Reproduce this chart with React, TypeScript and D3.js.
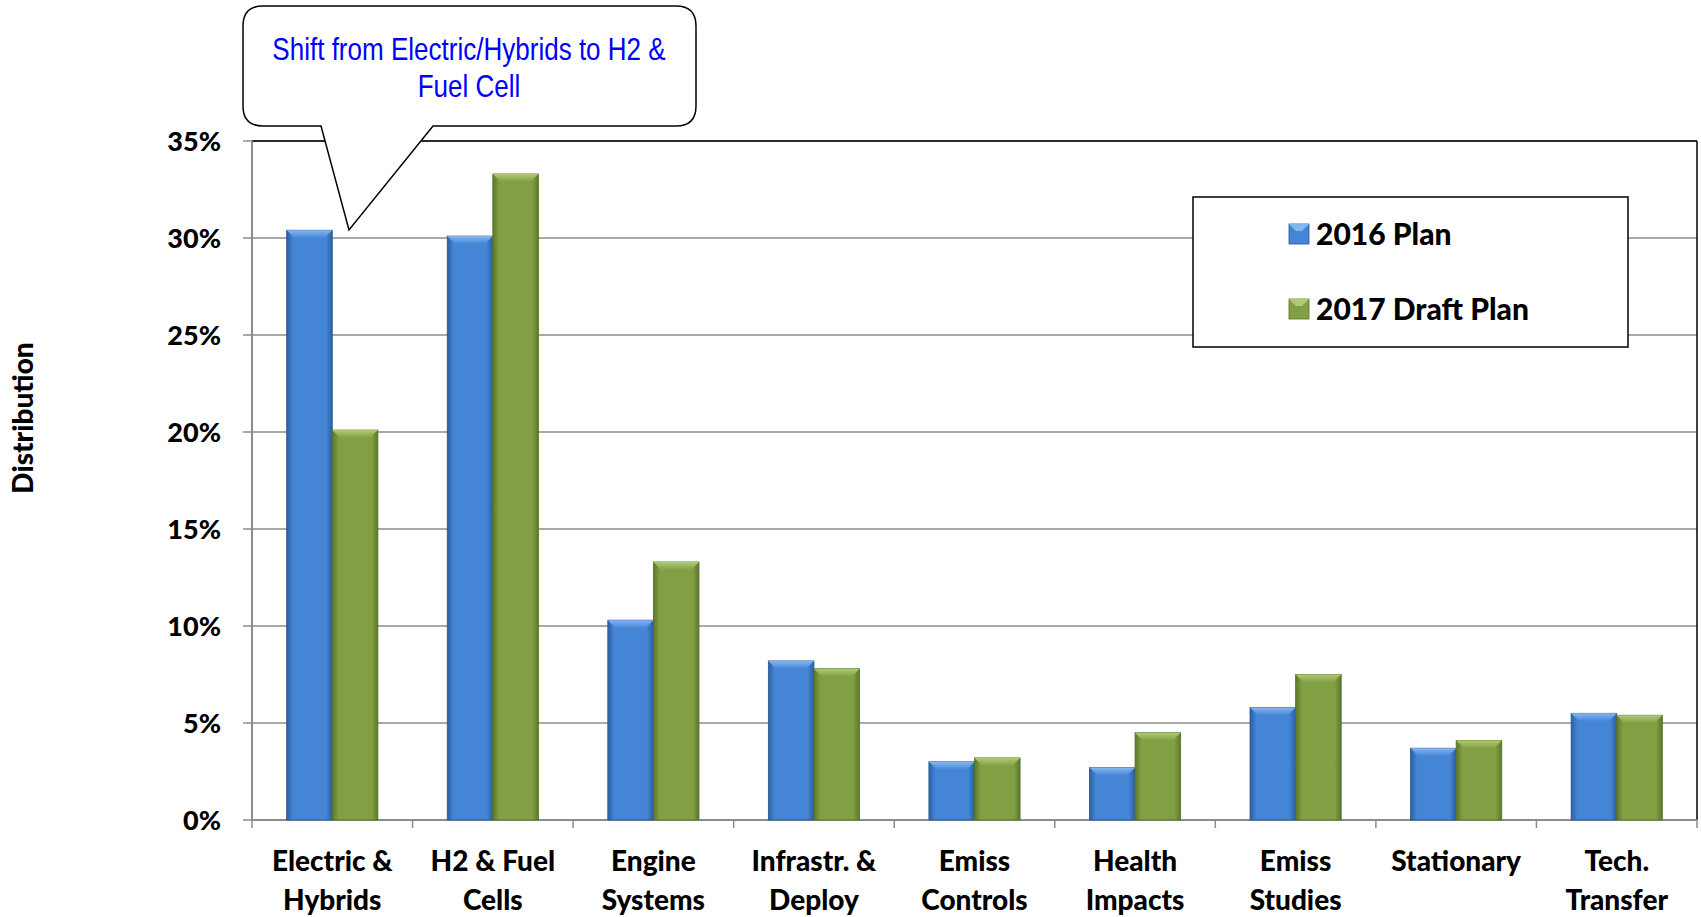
import React from "react";
import * as d3 from "d3";

const categories: string[][] = [
  ["Electric &", "Hybrids"],
  ["H2 & Fuel", "Cells"],
  ["Engine", "Systems"],
  ["Infrastr. &", "Deploy"],
  ["Emiss", "Controls"],
  ["Health", "Impacts"],
  ["Emiss", "Studies"],
  ["Stationary"],
  ["Tech.", "Transfer"],
];
const plan2016: number[] = [30.4, 30.1, 10.3, 8.2, 3.0, 2.7, 5.8, 3.7, 5.5];
const plan2017: number[] = [20.1, 33.3, 13.3, 7.8, 3.2, 4.5, 7.5, 4.1, 5.4];
const yTicks: number[] = [0, 5, 10, 15, 20, 25, 30, 35];
const seriesNames: string[] = ["2016 Plan", "2017 Draft Plan"];
const calloutLines: string[] = ["Shift from Electric/Hybrids to H2 &", "Fuel Cell"];

const W = 1701;
const H = 917;
const L = 252, R = 1697, T = 141, B = 820;
const FONT = "Lato, 'Open Sans', sans-serif";
const FW = 900;

const palettes = [
  { main: "#4485d6", light: "#86b6ef", dark: "#2c5fa3", edge: "#2a5590" },
  { main: "#82a043", light: "#afca74", dark: "#5d772a", edge: "#55702a" },
];

function Bar({ x, y, w, h, s }: { x: number; y: number; w: number; h: number; s: number }) {
  const p = palettes[s];
  const bev = Math.min(8, h / 2);
  return (
    <g>
      <rect x={x} y={y} width={w} height={h} fill={`url(#grad${s})`} stroke={p.edge} strokeWidth={0.8} />
      <polygon
        points={`${x},${y} ${x + w},${y} ${x + w - bev},${y + bev} ${x + bev},${y + bev}`}
        fill={`url(#top${s})`}
      />
    </g>
  );
}

export default function App() {
  const y = d3.scaleLinear().domain([0, 35]).range([B, T]);
  const x = d3.scaleBand<number>().domain(d3.range(categories.length)).range([L, R]).padding(0);
  const step = x.step();
  const bw = step * 0.284;
  const off = step * 0.216;
  const series = [plan2016, plan2017];

  return (
    <svg width={W} height={H} style={{ display: "block", position: "absolute", left: 0, top: 0 }}>
      <defs>
        {palettes.map((p, i) => (
          <React.Fragment key={i}>
            <linearGradient id={`grad${i}`} x1="0" x2="1" y1="0" y2="0">
              <stop offset="0%" stopColor={p.dark} />
              <stop offset="14%" stopColor={p.main} />
              <stop offset="86%" stopColor={p.main} />
              <stop offset="100%" stopColor={p.dark} />
            </linearGradient>
            <linearGradient id={`top${i}`} x1="0" x2="0" y1="0" y2="1">
              <stop offset="0%" stopColor={p.light} />
              <stop offset="100%" stopColor={p.main} />
            </linearGradient>
          </React.Fragment>
        ))}
      </defs>
      <rect x={0} y={0} width={W} height={H} fill="#fff" />

      {yTicks.map((t) => (
        <line key={t} x1={L - 9} x2={R} y1={y(t)} y2={y(t)} stroke="#8c8c8c" strokeWidth={1.5} />
      ))}
      <line x1={L} x2={R} y1={T} y2={T} stroke="#000" strokeWidth={1.5} />
      <line x1={R} x2={R} y1={T} y2={B} stroke="#000" strokeWidth={1.5} />
      <line x1={L} x2={L} y1={T} y2={B} stroke="#8c8c8c" strokeWidth={2} />
      <line x1={L} x2={R} y1={B} y2={B} stroke="#8c8c8c" strokeWidth={2} />
      {d3.range(categories.length + 1).map((i) => {
        const xx = L + i * step;
        return <line key={i} x1={xx} x2={xx} y1={B} y2={B + 8} stroke="#8c8c8c" strokeWidth={1.5} />;
      })}

      {yTicks.map((t) => (
        <text
          key={t}
          x={221}
          y={y(t)}
          dy="0.36em"
          textAnchor="end"
          fontFamily={FONT}
          fontWeight={FW}
          fontSize={27}
          fill="#000"
        >
          {t}%
        </text>
      ))}

      <text
        transform={`translate(${33},${418}) rotate(-90)`}
        textAnchor="middle"
        fontFamily={FONT}
        fontWeight={FW}
        fontSize={28}
        fill="#000"
      >
        Distribution
      </text>

      {categories.map((_, i) =>
        series.map((vals, s) => {
          const bx = (x(i) as number) + off + s * bw;
          const by = y(vals[i]);
          return <Bar key={`${i}-${s}`} x={bx} y={by} w={bw} h={B - by} s={s} />;
        })
      )}

      {categories.map((lines, i) => {
        const cx = (x(i) as number) + step / 2;
        return (
          <text key={i} textAnchor="middle" fontFamily={FONT} fontWeight={FW} fontSize={28} fill="#000">
            {lines.map((ln, j) => (
              <tspan key={j} x={cx} y={871 + j * 39}>
                {ln}
              </tspan>
            ))}
          </text>
        );
      })}

      <rect x={1193} y={197} width={435} height={150} fill="#fff" stroke="#000" strokeWidth={1.5} />
      {seriesNames.map((n, s) => {
        const cy = 234 + s * 75;
        const p = palettes[s];
        return (
          <g key={n}>
            <rect x={1289} y={cy - 10} width={20} height={20} fill={p.main} stroke={p.edge} strokeWidth={0.8} />
            <polygon
              points={`${1289},${cy - 10} ${1309},${cy - 10} ${1302},${cy - 3} ${1296},${cy - 3}`}
              fill={p.light}
            />
            <text x={1316} y={cy} dy="0.36em" fontFamily={FONT} fontWeight={FW} fontSize={30} fill="#000">
              {n}
            </text>
          </g>
        );
      })}

      <path
        d={`M 263 6 H 676 Q 696 6 696 26 V 106 Q 696 126 676 126 H 433 L 349 230 L 321 126 H 263 Q 243 126 243 106 V 26 Q 243 6 263 6 Z`}
        fill="#fff"
        stroke="#000"
        strokeWidth={1.5}
      />
      {calloutLines.map((ln, j) => (
        <g key={j} transform={`translate(469, ${49 + j * 37}) scale(0.84, 1)`}>
          <text
            x={0}
            y={0}
            dy="0.35em"
            textAnchor="middle"
            fontFamily="'Liberation Sans', Arial, sans-serif"
            fontSize={31}
            fill="#0000ff"
          >
            {ln}
          </text>
        </g>
      ))}
    </svg>
  );
}
